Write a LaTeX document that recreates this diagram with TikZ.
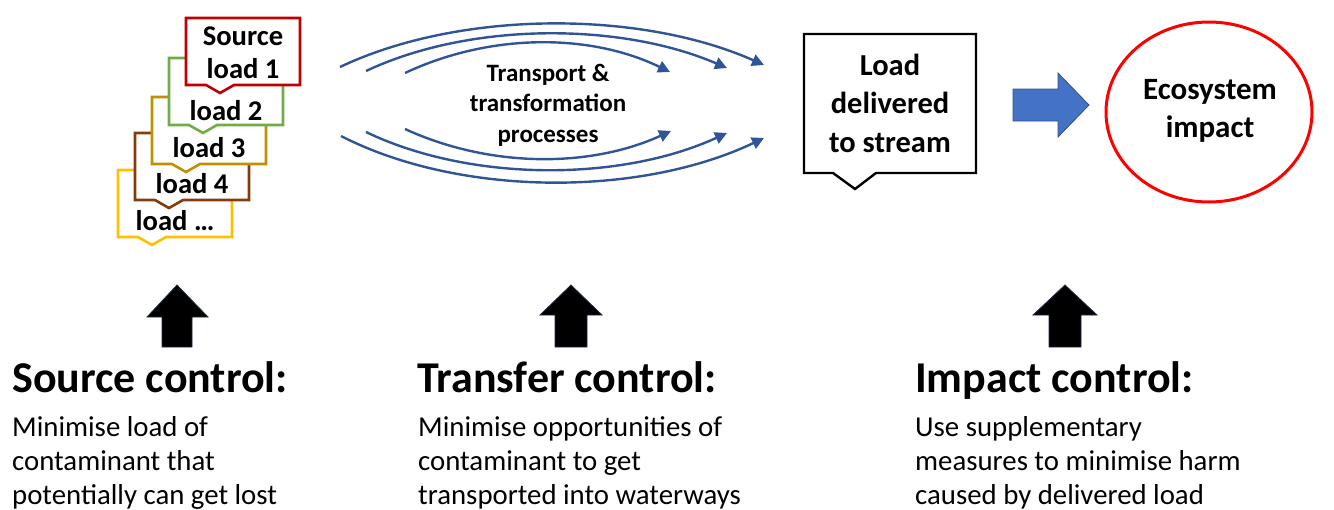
\documentclass[tikz,border=0pt]{standalone}
\usepackage{fontspec}
\setmainfont{Carlito}
\usetikzlibrary{shapes.geometric,arrows.meta}
\definecolor{srcred}{HTML}{C00000}
\definecolor{srcgreen}{HTML}{70AD47}
\definecolor{srcgold}{HTML}{BF9000}
\definecolor{srcbrown}{HTML}{843C0C}
\definecolor{srcyellow}{HTML}{FFC000}
\definecolor{flowblue}{HTML}{2F5597}
\definecolor{fillblue}{HTML}{4472C4}
\definecolor{edgeblue}{HTML}{2F528F}
\definecolor{edgenavy}{HTML}{1F2A44}
\definecolor{impactred}{HTML}{FF0000}

\tikzset{
  pics/loadbox/.style={code={
    \draw[boxline, draw=#1] (0,0) -- (114,0) -- (114,67) -- (48,67) -- (34,75)
      -- (20,67) -- (0,67) -- cycle;
  }},
}

\begin{document}
\begin{tikzpicture}[x=1pt,y=-1pt,
  boxline/.style={line width=2.6pt, line join=miter, fill=white},
  loadtext/.style={font=\bfseries\fontsize{28.6}{33}\selectfont, anchor=base, inner sep=0pt, align=center},
  flow/.style={draw=flowblue, line width=2.4pt, -{Triangle[length=12pt,width=12pt]}},
  uparrow/.style={fill=black, draw=edgenavy, line width=0.8pt, line join=miter},
  heading/.style={font=\bfseries\fontsize{44}{50}\selectfont, anchor=base west, inner sep=0pt},
  body/.style={font=\fontsize{28.8}{34}\selectfont, anchor=base west, inner sep=0pt, align=left},
]
\useasboundingbox (0,0) rectangle (1334,509);

% stacked source loads, back to front (multi-line nodes sit on their last baseline)
\pic (b5) at (118,170) {loadbox=srcyellow};
\node[loadtext] (t5) at (175,230) {load \dots};
\pic (b4) at (135,133) {loadbox=srcbrown};
\node[loadtext] (t4) at (192,193) {load 4};
\pic (b3) at (152,97) {loadbox=srcgold};
\node[loadtext] (t3) at (209,157) {load 3};
\pic (b2) at (169,58) {loadbox=srcgreen};
\node[loadtext] (t2) at (226,120) {load 2};
\pic (b1) at (186,18) {loadbox=srcred};
\node[loadtext] (t1) at (243,78) {Source\\load 1};

% transport processes
\node[font=\bfseries\fontsize{25}{30.5}\selectfont, anchor=base, inner sep=0pt, align=center]
  (tp) at (548,142) {Transport \&\\transformation\\processes};

\coordinate (ua) at (340,67);  \coordinate (ua') at (764,65);
\coordinate (ub) at (366,71);  \coordinate (ub') at (727,68);
\coordinate (uc) at (405,73);  \coordinate (uc') at (670,72);
\coordinate (la) at (341,136); \coordinate (la') at (764,138);
\coordinate (lb) at (366,132); \coordinate (lb') at (727,133);
\coordinate (lc) at (405,129); \coordinate (lc') at (671,131);

\draw[flow] (ua) .. controls (460,10) and (640,10) .. (ua');
\draw[flow] (ub) .. controls (470,22) and (620,22) .. (ub');
\draw[flow] (uc) .. controls (490,33) and (590,33) .. (uc');
\draw[flow] (la) .. controls (460,197) and (640,197) .. (la');
\draw[flow] (lb) .. controls (470,182) and (620,182) .. (lb');
\draw[flow] (lc) .. controls (490,168) and (590,168) .. (lc');

% delivered load
\draw[line width=2.4pt, line join=miter, fill=white]
  (804,34) -- (976,34) -- (976,173) -- (876,173) -- (855,189) -- (833,173) -- (804,173) -- cycle;
\node[font=\bfseries\fontsize{30.5}{38.3}\selectfont, anchor=base, inner sep=0pt, align=center]
  (ld) at (890,152) {Load\\delivered\\to stream};

% block arrow towards the impact
\draw[fill=fillblue, draw=edgeblue, line width=0.8pt, line join=miter]
  (1013,89) -- (1058,89) -- (1058,73) -- (1089,105) -- (1058,137) -- (1058,121) -- (1013,121) -- cycle;

% ecosystem impact
\node[ellipse, draw=impactred, line width=3pt, minimum width=206pt, minimum height=180pt, inner sep=0pt]
  (ei) at (1209,112) {};
\node[font=\bfseries\fontsize{31}{38}\selectfont, anchor=base, inner sep=0pt, align=center]
  (eit) at (1210,137) {Ecosystem\\impact};

% control points
\draw[uparrow] (177,285) -- (208,317) -- (192,317) -- (192,347) -- (162,347) -- (162,317) -- (147,317) -- cycle;
\draw[uparrow] (571,285) -- (602,315) -- (587,315) -- (587,347) -- (555,347) -- (555,315) -- (540,315) -- cycle;
\draw[uparrow] (1065,285) -- (1097,315) -- (1081,315) -- (1081,347) -- (1049,347) -- (1049,315) -- (1033,315) -- cycle;

\node[heading] (hs) at (12,392) {Source control:};
\node[body] (bs) at (12,504) {Minimise load of\\contaminant that\\potentially can get lost};
\node[heading] (ht) at (417,392) {Transfer control:};
\node[body] (bt) at (418,504) {Minimise opportunities of\\contaminant to get\\transported into waterways};
\node[heading] (hi) at (915,392) {Impact control:};
\node[body] (bi) at (915,504) {Use supplementary\\measures to minimise harm\\caused by delivered load};
\end{tikzpicture}
\end{document}
